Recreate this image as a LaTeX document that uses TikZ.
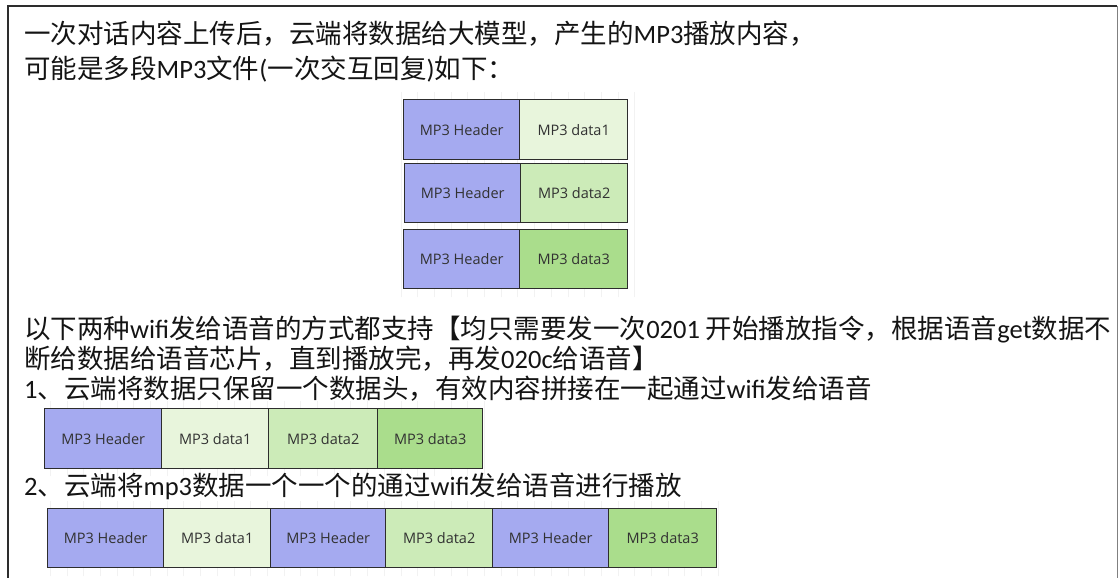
\documentclass[tikz,border=0pt]{standalone}
\usepackage{fontspec}
\setmainfont{Carlito}
\newfontfamily\cjk{Noto Sans CJK SC}
\newfontfamily\labfont{Open Sans}
\newcommand{\zh}[1]{{\cjk #1}}
\definecolor{hdr}{RGB}{165,170,240}
\definecolor{dA}{RGB}{232,245,220}
\definecolor{dB}{RGB}{204,235,184}
\definecolor{dC}{RGB}{170,221,140}
\definecolor{edgec}{RGB}{45,45,45}
\definecolor{txt}{RGB}{20,20,20}
\definecolor{labtxt}{RGB}{50,50,50}
\definecolor{gridc}{RGB}{242,242,242}
\newcommand{\mkcell}[7]{\node[cell, fill=#2, minimum width=#5pt, minimum height=#6pt, anchor=north west] (#1) at (#3,#4) {#7};}
\begin{document}
\begin{tikzpicture}[x=1pt,y=-1pt,
  textline/.style={anchor=base west, inner sep=0pt, text=txt, font=\fontsize{26.5}{30}\selectfont},
  cell/.style={draw=edgec, line width=1.4pt, inner sep=0pt, text=labtxt, font=\labfont\fontsize{14.5}{16}\selectfont},
  gridline/.style={draw=gridc, line width=0.6pt}]
\useasboundingbox (0,0) rectangle (1119,578);
\fill[white] (0,0) rectangle (1119,578);
% faint background grids
\draw[gridline] (395,92) grid[step=16.7] (641,297);
\draw[gridline] (36,401) grid[step=16.7] (490,476);
\draw[gridline] (38,501) grid[step=16.7] (725,576);
% outer frame
\draw[edgec, line width=1.5pt] (8,582) -- (8,6) -- (1117,6);
\draw[gray, line width=1pt] (1117,6) -- (1117,582);
% texts
\node[textline] (t1) at (24,44) {\zh{一次对话内容上传后，云端将数据给大模型，产生的}MP3\zh{播放内容，}};
\node[textline] (t2) at (24,78) {\zh{可能是多段}MP3\zh{文件}(\zh{一次交互回复})\zh{如下：}};
\node[textline] (t3) at (24,338) {\zh{以下两种}wifi\zh{发给语音的方式都支持【均只需要发一次}0201 \zh{开始播放指令，根据语音}get\zh{数据不}};
\node[textline] (t4) at (24,368) {\zh{断给数据给语音芯片，直到播放完，再发}020c\zh{给语音】}};
\node[textline] (t5) at (24,398) {1\zh{、云端将数据只保留一个数据头，有效内容拼接在一起通过}wifi\zh{发给语音}};
\node[textline] (t6) at (24,495) {2\zh{、云端将}mp3\zh{数据一个一个的通过}wifi\zh{发给语音进行播放}};
% top group
\mkcell{a1}{hdr}{403}{99}{116}{60}{MP3 Header}
\mkcell{b1}{dA}{519}{99}{108}{60}{MP3 data1}
\mkcell{a2}{hdr}{404}{163}{116}{59}{MP3 Header}
\mkcell{b2}{dB}{520}{163}{107}{59}{MP3 data2}
\mkcell{a3}{hdr}{403}{229}{116}{59}{MP3 Header}
\mkcell{b3}{dC}{519}{229}{108}{59}{MP3 data3}
% method 1
\mkcell{m1h}{hdr}{44}{408}{117}{60}{MP3 Header}
\mkcell{m1a}{dA}{161}{408}{107}{60}{MP3 data1}
\mkcell{m1b}{dB}{268}{408}{109}{60}{MP3 data2}
\mkcell{m1c}{dC}{377}{408}{105}{60}{MP3 data3}
% method 2
\mkcell{m2h1}{hdr}{47}{508}{116}{59}{MP3 Header}
\mkcell{m2a}{dA}{163}{508}{107}{59}{MP3 data1}
\mkcell{m2h2}{hdr}{270}{508}{115}{59}{MP3 Header}
\mkcell{m2b}{dB}{385}{508}{107}{59}{MP3 data2}
\mkcell{m2h3}{hdr}{492}{508}{116}{59}{MP3 Header}
\mkcell{m2c}{dC}{608}{508}{108}{59}{MP3 data3}
\end{tikzpicture}
\end{document}
